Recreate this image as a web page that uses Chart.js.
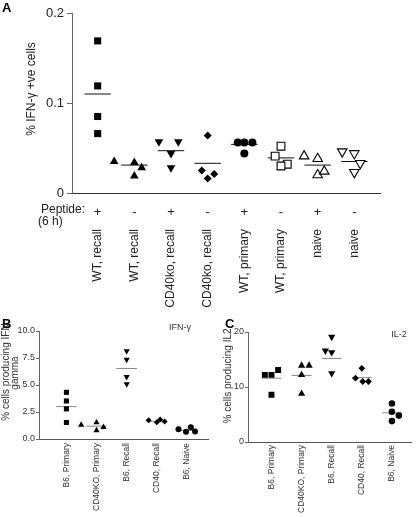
<!DOCTYPE html>
<html>
<head>
<meta charset="utf-8">
<title>IFN-gamma / IL-2 responses</title>
<script src="https://cdn.jsdelivr.net/npm/chart.js@4.4.1/dist/chart.umd.min.js"></script>
<style>
  html, body { margin: 0; padding: 0; background: #fff; }
  body { width: 416px; height: 517px; position: relative; overflow: hidden; }
  .panel { position: absolute; }
  #boxA { left: 0; top: 0; width: 416px; height: 320px; }
  #boxB { left: 0; top: 310px; width: 212px; height: 207px; }
  #boxC { left: 205px; top: 310px; width: 211px; height: 207px; }
</style>
</head>
<body>
<div class="panel" id="boxA"><canvas id="chartA"></canvas></div>
<div class="panel" id="boxB"><canvas id="chartB"></canvas></div>
<div class="panel" id="boxC"><canvas id="chartC"></canvas></div>

<script>
// ---- Panel A: % IFN-g +ve cells, 8 groups, +/- peptide ----
const groupsA = ['WT, recall', 'WT, recall', 'CD40ko, recall', 'CD40ko, recall',
                 'WT, primary', 'WT, primary', 'naive', 'naive'];
const peptideA = ['+', '-', '+', '-', '+', '-', '+', '-'];
const valuesA = [
  [0.169, 0.119, 0.085, 0.066],
  [0.035, 0.034, 0.028, 0.019],
  [0.057, 0.057, 0.044, 0.028],
  [0.064, 0.025, 0.021, 0.016],
  [0.056, 0.056, 0.056, 0.044],
  [0.052, 0.041, 0.032, 0.030],
  [0.041, 0.038, 0.020, 0.024],
  [0.046, 0.044, 0.033, 0.023]
];
// horizontal scatter of each point inside its group (category units)
const jitterA = [
  [0, 0, 0, 0],
  [-0.55, 0, 0.2, 0],
  [-0.33, 0.2, 0, 0],
  [0, -0.16, 0.18, 0],
  [-0.18, 0, 0.22, 0],
  [0, -0.16, 0.17, 0],
  [-0.37, 0, 0, 0.18],
  [-0.33, 0, 0.16, 0]
];
const meansA = [0.110, 0.031, 0.047, 0.033, 0.054, 0.039, 0.031, 0.035];
const ticksA = [0, 0.1, 0.2];

// ---- Panels B and C: same 5 groups ----
const groupsBC = ['B6, Primary', 'CD40KO, Primary', 'B6, Recall', 'CD40, Recall', 'B6, Naive'];

const valuesB = [
  [4.32, 3.52, 2.79, 1.53],
  [1.31, 1.53, 1.10, 0.79],
  [8.14, 7.35, 5.75, 5.08],
  [1.74, 1.55, 1.80, 1.62],
  [0.90, 0.67, 1.08, 0.69]
];
const jitterB = [
  [0, 0, 0, 0],
  [-0.51, 0, 0.23, 0],
  [0, 0, 0, 0],
  [-0.27, 0, 0.11, 0.26],
  [-0.28, -0.03, 0.13, 0.27]
];
const meansB = [3.0, 1.19, 6.53, 1.64, 0.8];
const ticksB = [0, 2.5, 5, 7.5, 10];

const valuesC = [
  [12.2, 12.2, 13.1, 8.6],
  [13.9, 13.9, 12.2, 8.8],
  [19.1, 16.6, 16.3, 12.5],
  [13.4, 11.6, 11.0, 11.0],
  [7.0, 5.5, 4.8, 3.8]
];
const jitterC = [
  [-0.22, 0, 0.22, 0],
  [0, 0.25, 0, 0],
  [0, -0.21, 0, 0],
  [0, -0.21, 0.03, 0.22],
  [0, 0, 0.23, 0]
];
const meansC = [11.6, 12.1, 15.2, 11.7, 5.3];
const ticksC = [0, 10, 20];

const FONT = '"Liberation Sans", Arial, Helvetica, sans-serif';

// marker look per group
const stylesA = [
  { shape: 'rect', r: 5 },
  { shape: 'triangle', r: 5 },
  { shape: 'triangle', r: 5, rot: 180 },
  { shape: 'rectRot', r: 4 },
  { shape: 'circle', r: 4 },
  { shape: 'rect', r: 5.5, open: true },
  { shape: 'triangle', r: 5.5, open: true },
  { shape: 'triangle', r: 5.5, rot: 180, open: true }
];
const stylesB = [
  { shape: 'rect', r: 3.6 },
  { shape: 'triangle', r: 3.6 },
  { shape: 'triangle', r: 3.6, rot: 180 },
  { shape: 'rectRot', r: 3 },
  { shape: 'circle', r: 3 }
];
const stylesC = [
  { shape: 'rect', r: 4.2 },
  { shape: 'triangle', r: 4.2 },
  { shape: 'triangle', r: 4.2, rot: 180 },
  { shape: 'rectRot', r: 3.4 },
  { shape: 'circle', r: 3.3 }
];

function pointSets(values, jitter, styles) {
  return values.map((vals, g) => ({
    data: vals.map((v, k) => ({ x: g + 1 + jitter[g][k], y: v })),
    pointStyle: styles[g].shape,
    rotation: styles[g].rot || 0,
    pointRadius: styles[g].r,
    backgroundColor: styles[g].open ? '#fff' : '#000',
    borderColor: '#000',
    borderWidth: styles[g].open ? 1.1 : 0
  }));
}

function meanSets(means, half, color) {
  return means.map((m, g) => ({
    data: [{ x: g + 1 - half, y: m }, { x: g + 1 + half, y: m }],
    showLine: true,
    pointRadius: 0,
    borderColor: color,
    borderWidth: 1
  }));
}

// text that is not tied to a scale (panel letter, y titles, +/- row)
const annot = {
  id: 'annot',
  afterDraw(chart, args, opts) {
    const ctx = chart.ctx;
    (opts.items || []).forEach(t => {
      ctx.save();
      ctx.font = t.font;
      ctx.fillStyle = t.color || '#222';
      ctx.textAlign = t.align || 'center';
      ctx.textBaseline = t.baseline || 'middle';
      ctx.translate(t.x, t.y);
      if (t.rotate) ctx.rotate(-Math.PI / 2);
      ctx.fillText(t.text, 0, 0);
      ctx.restore();
    });
    if (opts.signs) {
      const xs = chart.scales.x;
      ctx.save();
      ctx.font = '13px ' + FONT;
      ctx.fillStyle = '#222';
      ctx.textAlign = 'center';
      ctx.textBaseline = 'middle';
      opts.signs.forEach((s, i) => ctx.fillText(s, xs.getPixelForValue(i + 1), 212));
      ctx.restore();
    }
  }
};

function makeChart(id, cfg) {
  return new Chart(document.getElementById(id), {
    type: 'scatter',
    data: { datasets: pointSets(cfg.values, cfg.jitter, cfg.styles)
              .concat(meanSets(cfg.means, cfg.half, cfg.meanColor)) },
    options: {
      responsive: true,
      maintainAspectRatio: false,
      animation: false,
      layout: { padding: cfg.padding },
      plugins: {
        legend: { display: false },
        tooltip: { enabled: false },
        annot: { items: cfg.texts, signs: cfg.signs }
      },
      scales: {
        x: {
          type: 'linear',
          min: cfg.xMin,
          max: cfg.xMax,
          afterBuildTicks: s => { s.ticks = cfg.groups.map((_, i) => ({ value: i + 1 })); },
          afterFit: s => { s.height = cfg.xHeight; },
          grid: { display: false },
          border: { display: true, color: cfg.xAxisColor, width: 1 },
          ticks: {
            autoSkip: false,
            minRotation: 90,
            maxRotation: 90,
            padding: cfg.xPad,
            color: cfg.textColor,
            font: { family: FONT, size: cfg.xFont },
            callback: (v, i) => cfg.groups[i]
          }
        },
        y: {
          min: cfg.yTicks[0],
          max: cfg.yTicks[cfg.yTicks.length - 1],
          afterBuildTicks: s => { s.ticks = cfg.yTicks.map(v => ({ value: v })); },
          afterFit: s => { s.width = cfg.yWidth; },
          grid: { drawOnChartArea: false, drawTicks: true, tickLength: cfg.tickLen, color: cfg.yAxisColor },
          border: { display: true, color: cfg.yAxisColor, width: 1 },
          ticks: {
            padding: cfg.yPad,
            color: cfg.textColor,
            font: { family: FONT, size: cfg.yFont },
            callback: cfg.yFormat
          }
        }
      }
    },
    plugins: [annot]
  });
}

makeChart('chartA', {
  values: valuesA, jitter: jitterA, styles: stylesA, means: meansA,
  half: 0.36, meanColor: '#111', groups: groupsA, signs: peptideA,
  xMin: 0.3, xMax: 8.7, yTicks: ticksA,
  padding: { top: 13, right: 36, bottom: 0, left: 0 },
  xHeight: 127, yWidth: 72, xPad: 28, yPad: 3, tickLen: 5,
  xFont: 12, yFont: 13, textColor: '#222', xAxisColor: '#333', yAxisColor: '#666',
  yFormat: v => (v === 0 ? '0' : v.toFixed(1)),
  texts: [
    { text: 'A', x: 2, y: 12, font: 'bold 13px ' + FONT, align: 'left', baseline: 'alphabetic', color: '#000' },
    { text: '% IFN-\u03b3 +ve cells', x: 32, y: 89, font: '12px ' + FONT, rotate: true },
    { text: 'Peptide:', x: 41, y: 210, font: '12px ' + FONT, align: 'left' },
    { text: '(6 h)', x: 38, y: 222, font: '12px ' + FONT, align: 'left' }
  ]
});

makeChart('chartB', {
  values: valuesB, jitter: jitterB, styles: stylesB, means: meansB,
  half: 0.34, meanColor: '#888', groups: groupsBC,
  xMin: 0.09, xMax: 5.7, yTicks: ticksB,
  padding: { top: 21, right: 0, bottom: 0, left: 0 },
  xHeight: 78, yWidth: 39, xPad: -4, yPad: 1, tickLen: 3,
  xFont: 8.5, yFont: 9, textColor: '#333', xAxisColor: '#555', yAxisColor: '#666',
  yFormat: v => v.toFixed(1),
  texts: [
    { text: 'B', x: 2, y: 18, font: 'bold 13px ' + FONT, align: 'left', baseline: 'alphabetic', color: '#000' },
    { text: '% cells producing IFN', x: 6, y: 62, font: '10px ' + FONT, rotate: true, color: '#333' },
    { text: 'gamma', x: 15.5, y: 63, font: '10px ' + FONT, rotate: true, color: '#333' },
    { text: 'IFN-\u03b3', x: 180, y: 18, font: '9px ' + FONT, color: '#333' }
  ]
});

makeChart('chartC', {
  values: valuesC, jitter: jitterC, styles: stylesC, means: meansC,
  half: 0.33, meanColor: '#888', groups: groupsBC,
  xMin: 0.22, xMax: 5.66, yTicks: ticksC,
  padding: { top: 22, right: 1, bottom: 0, left: 0 },
  xHeight: 75, yWidth: 43, xPad: -5, yPad: 1, tickLen: 3,
  xFont: 8.5, yFont: 9, textColor: '#333', xAxisColor: '#555', yAxisColor: '#666',
  yFormat: v => String(v),
  texts: [
    { text: 'C', x: 20, y: 18, font: 'bold 13px ' + FONT, align: 'left', baseline: 'alphabetic', color: '#000' },
    { text: '% cells producing IL2', x: 23, y: 66, font: '10px ' + FONT, rotate: true, color: '#333' },
    { text: 'IL-2', x: 194, y: 25, font: '9px ' + FONT, color: '#333' }
  ]
});
</script>
</body>
</html>
